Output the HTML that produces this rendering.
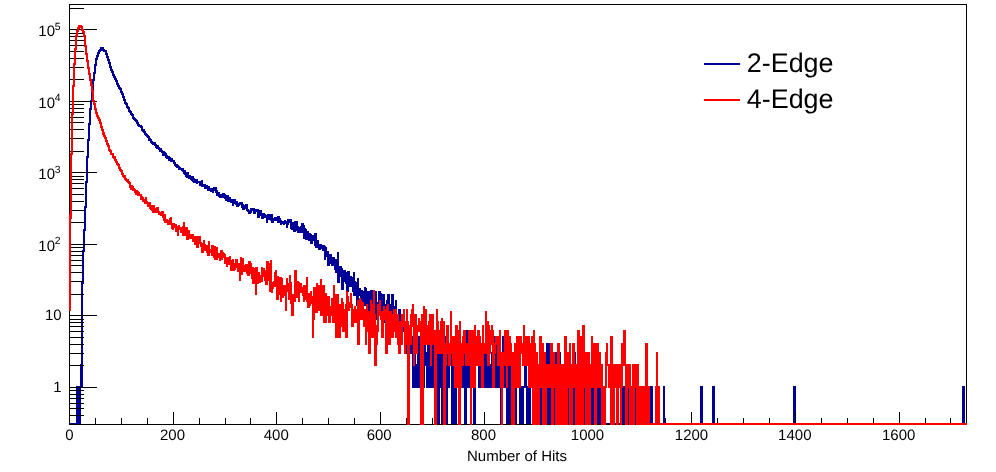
<!DOCTYPE html>
<html><head><meta charset="utf-8"><title>Number of Hits</title>
<style>html,body{margin:0;padding:0;background:#fff}body{width:996px;height:472px;overflow:hidden}svg{display:block;will-change:transform}text{font-family:"Liberation Sans",sans-serif;fill:#000;text-rendering:geometricPrecision}</style>
</head><body>
<svg width="996" height="472" viewBox="0 0 996 472">
<rect width="996" height="472" fill="#fff"/>
<path d="M69 423h7v2h-7zM76 386h4v39h-4zM80 364h1v61h-1zM81 282h1v106h-1zM82 250h1v138h-1zM83 229h1v55h-1zM84 206h1v46h-1zM85 181h1v50h-1zM86 156h1v52h-1zM87 139h1v44h-1zM88 123h1v35h-1zM89 108h1v33h-1zM90 100h1v25h-1zM91 90h1v20h-1zM92 79h1v23h-1zM93 72h1v20h-1zM94 64h1v17h-1zM95 58h1v16h-1zM96 55h1v11h-1zM97 52h1v8h-1zM98 50h1v7h-1zM99 49h1v5h-1zM100 47h1v5h-1zM101 47h2v4h-2zM103 47h1v5h-1zM104 49h1v3h-1zM105 50h1v5h-1zM106 50h1v8h-1zM107 53h1v8h-1zM108 56h1v8h-1zM109 59h1v9h-1zM110 62h1v9h-1zM111 66h1v7h-1zM112 69h1v7h-1zM113 71h1v7h-1zM114 74h1v6h-1zM115 76h1v6h-1zM116 78h1v7h-1zM117 80h1v7h-1zM118 83h1v6h-1zM119 85h1v5h-1zM120 87h1v6h-1zM121 88h1v7h-1zM122 91h1v7h-1zM123 93h1v8h-1zM124 96h1v8h-1zM125 99h1v6h-1zM126 102h1v6h-1zM127 103h1v6h-1zM128 106h1v6h-1zM129 107h1v6h-1zM130 110h1v5h-1zM131 111h1v5h-1zM132 113h1v6h-1zM133 114h1v6h-1zM134 117h1v4h-1zM135 118h1v4h-1zM136 119h1v5h-1zM137 120h1v6h-1zM138 122h1v5h-1zM139 124h1v3h-1zM140 125h1v3h-1zM141 125h1v6h-1zM142 126h1v6h-1zM143 129h1v4h-1zM144 129h1v6h-1zM145 131h1v5h-1zM146 133h1v4h-1zM147 134h1v4h-1zM148 135h1v6h-1zM149 136h1v5h-1zM150 138h1v5h-1zM151 139h1v5h-1zM152 141h1v4h-1zM153 142h1v3h-1zM154 142h1v4h-1zM155 142h1v6h-1zM156 144h1v5h-1zM157 145h1v4h-1zM158 145h1v5h-1zM159 147h1v5h-1zM160 148h1v4h-1zM161 148h1v5h-1zM162 150h1v6h-1zM163 151h2v5h-2zM165 152h1v6h-1zM166 153h1v6h-1zM167 155h1v4h-1zM168 156h2v5h-2zM170 157h1v5h-1zM171 158h2v4h-2zM173 160h1v4h-1zM174 160h1v6h-1zM175 162h1v5h-1zM176 164h2v4h-2zM178 165h1v5h-1zM179 166h1v4h-1zM180 167h1v3h-1zM181 168h1v3h-1zM182 168h1v4h-1zM183 168h1v6h-1zM184 170h1v5h-1zM185 170h1v7h-1zM186 172h2v6h-2zM188 172h1v7h-1zM189 175h1v4h-1zM190 175h1v5h-1zM191 176h1v5h-1zM192 176h1v6h-1zM193 176h1v7h-1zM194 178h1v5h-1zM195 179h1v4h-1zM196 179h2v5h-2zM198 181h1v2h-1zM199 181h2v5h-2zM201 180h2v7h-2zM203 184h1v3h-1zM204 184h2v5h-2zM206 185h1v4h-1zM207 185h1v6h-1zM208 186h2v5h-2zM210 188h2v4h-2zM212 188h1v5h-1zM213 187h1v6h-1zM214 187h1v4h-1zM215 187h1v6h-1zM216 187h1v9h-1zM217 190h1v6h-1zM218 192h1v5h-1zM219 192h1v6h-1zM220 194h2v4h-2zM222 193h2v5h-2zM224 193h1v6h-1zM225 194h1v7h-1zM226 195h1v6h-1zM227 195h2v7h-2zM229 197h1v5h-1zM230 197h1v6h-1zM231 199h1v4h-1zM232 199h2v7h-2zM234 199h1v5h-1zM235 199h1v6h-1zM236 201h2v6h-2zM238 203h1v4h-1zM239 202h1v4h-1zM240 202h1v3h-1zM241 202h1v6h-1zM242 202h1v8h-1zM243 204h1v6h-1zM244 205h1v5h-1zM245 204h1v5h-1zM246 204h1v7h-1zM247 204h1v8h-1zM248 209h1v5h-1zM249 210h1v4h-1zM250 208h1v6h-1zM251 208h1v5h-1zM252 208h1v3h-1zM253 208h2v6h-2zM255 209h1v5h-1zM256 209h1v3h-1zM257 209h2v9h-2zM259 210h1v8h-1zM260 210h1v6h-1zM261 210h1v9h-1zM262 213h2v6h-2zM264 213h1v5h-1zM265 214h1v4h-1zM266 215h1v8h-1zM267 214h1v9h-1zM268 214h2v6h-2zM270 214h1v7h-1zM271 214h2v9h-2zM273 218h1v5h-1zM274 217h3v4h-3zM277 216h3v7h-3zM280 218h1v7h-1zM281 220h1v5h-1zM282 221h1v3h-1zM283 221h1v4h-1zM284 220h1v5h-1zM285 220h1v4h-1zM286 221h1v7h-1zM287 219h1v9h-1zM288 219h1v6h-1zM289 219h1v4h-1zM290 219h1v10h-1zM291 219h1v11h-1zM292 222h1v8h-1zM293 222h1v10h-1zM294 221h2v11h-2zM296 221h1v10h-1zM297 221h1v12h-1zM298 226h1v7h-1zM299 227h1v6h-1zM300 226h1v7h-1zM301 223h2v10h-2zM303 223h1v16h-1zM304 225h1v14h-1zM305 228h1v12h-1zM306 229h1v11h-1zM307 231h1v9h-1zM308 231h1v10h-1zM309 233h1v8h-1zM310 233h1v11h-1zM311 234h1v10h-1zM312 235h1v9h-1zM313 235h1v6h-1zM314 233h1v13h-1zM315 233h2v15h-2zM317 240h1v8h-1zM318 240h1v10h-1zM319 244h2v6h-2zM321 244h1v5h-1zM322 245h2v6h-2zM324 245h1v15h-1zM325 246h1v14h-1zM326 247h1v10h-1zM327 251h2v15h-2zM329 254h1v12h-1zM330 254h1v10h-1zM331 254h1v12h-1zM332 257h2v9h-2zM334 257h1v13h-1zM335 259h2v14h-2zM337 252h2v31h-2zM339 266h1v17h-1zM340 266h1v11h-1zM341 266h1v24h-1zM342 268h1v22h-1zM343 270h1v20h-1zM344 270h1v12h-1zM345 270h1v14h-1zM346 272h1v20h-1zM347 271h2v21h-2zM349 271h1v16h-1zM350 276h2v11h-2zM352 277h1v15h-1zM353 272h2v24h-2zM355 281h1v15h-1zM356 282h1v24h-1zM357 278h2v28h-2zM359 288h1v8h-1zM360 288h1v18h-1zM361 290h2v21h-2zM363 291h1v20h-1zM364 287h2v19h-2zM366 288h1v16h-1zM367 291h1v13h-1zM368 291h2v22h-2zM370 290h1v23h-1zM371 290h1v21h-1zM372 290h1v23h-1zM373 298h1v15h-1zM374 293h1v27h-1zM375 291h2v29h-2zM377 302h1v6h-1zM378 291h2v17h-2zM380 291h1v25h-1zM381 293h1v23h-1zM382 294h3v29h-3zM385 304h1v19h-1zM386 300h1v20h-1zM387 294h1v26h-1zM388 294h1v22h-1zM389 294h1v17h-1zM390 304h1v23h-1zM391 294h2v33h-2zM393 294h1v26h-1zM394 306h1v21h-1zM395 300h2v27h-2zM397 314h1v24h-1zM398 309h2v29h-2zM400 309h1v36h-1zM401 321h2v24h-2zM403 318h1v14h-1zM404 318h1v36h-1zM405 321h1v33h-1zM406 336h1v18h-1zM407 336h1v30h-1zM408 330h1v36h-1zM409 325h1v41h-1zM410 325h2v29h-2zM412 336h3v52h-3zM415 343h1v45h-1zM416 364h1v24h-1zM417 336h3v52h-3zM420 352h1v36h-1zM421 343h1v45h-1zM422 336h2v52h-2zM424 343h1v45h-1zM425 343h1v23h-1zM426 352h1v36h-1zM427 330h3v58h-3zM430 336h2v52h-2zM432 343h2v45h-2zM434 352h3v36h-3zM437 352h1v73h-1zM438 336h2v89h-2zM440 336h1v52h-1zM441 343h2v82h-2zM443 343h1v23h-1zM444 336h1v30h-1zM445 336h1v89h-1zM446 352h2v73h-2zM448 343h2v45h-2zM450 343h1v11h-1zM451 352h2v73h-2zM453 364h2v61h-2zM455 352h2v73h-2zM457 352h5v36h-5zM462 343h2v45h-2zM464 343h2v82h-2zM466 330h1v95h-1zM467 330h2v58h-2zM469 343h2v45h-2zM471 336h2v52h-2zM473 352h1v73h-1zM474 364h1v61h-1zM475 343h1v82h-1zM476 343h2v23h-2zM478 352h4v36h-4zM482 336h2v52h-2zM484 352h5v36h-5zM489 364h2v24h-2zM491 352h3v36h-3zM494 336h2v52h-2zM496 343h2v45h-2zM498 364h2v24h-2zM500 364h1v61h-1zM501 386h1v39h-1zM502 336h1v89h-1zM503 336h1v52h-1zM504 364h2v24h-2zM506 364h2v61h-2zM508 352h2v73h-2zM510 364h1v61h-1zM511 352h2v73h-2zM513 386h3v39h-3zM516 364h1v61h-1zM517 364h2v24h-2zM519 364h1v61h-1zM520 386h4v39h-4zM524 364h2v24h-2zM526 364h1v61h-1zM527 386h2v39h-2zM529 364h2v61h-2zM531 364h1v24h-1zM532 386h1v39h-1zM533 352h3v73h-3zM536 386h3v39h-3zM539 352h3v73h-3zM542 386h3v39h-3zM545 364h1v61h-1zM546 343h4v82h-4zM550 352h2v73h-2zM552 386h2v39h-2zM554 352h4v73h-4zM558 343h1v82h-1zM559 343h1v45h-1zM560 352h1v36h-1zM561 386h2v39h-2zM563 364h3v61h-3zM566 364h1v24h-1zM567 386h1v2h-1zM568 386h2v39h-2zM570 364h3v61h-3zM573 352h3v73h-3zM576 423h1v2h-1zM577 364h7v61h-7zM584 352h2v73h-2zM586 364h1v61h-1zM587 352h1v73h-1zM588 352h2v36h-2zM590 364h1v24h-1zM591 386h2v39h-2zM593 352h7v73h-7zM600 364h2v61h-2zM602 386h1v39h-1zM603 423h1v2h-1zM604 386h2v39h-2zM606 423h4v2h-4zM610 386h5v39h-5zM615 423h6v2h-6zM621 386h5v39h-5zM626 423h1v2h-1zM627 386h3v39h-3zM630 423h5v2h-5zM635 364h2v61h-2zM637 386h1v39h-1zM638 423h5v2h-5zM643 386h2v39h-2zM645 423h5v2h-5zM650 386h3v39h-3zM653 423h10v2h-10zM663 386h2v39h-2zM665 423h35v2h-35zM700 386h3v39h-3zM703 423h9v2h-9zM712 386h3v39h-3zM715 423h78v2h-78zM793 386h3v39h-3zM796 423h166v2h-166zM962 386h3v39h-3zM965 423h2v2h-2z" fill="#000099" shape-rendering="crispEdges"/>
<path d="M69 4h898v1h-898zM69 424h898v1h-898zM69 4h1v421h-1zM966 4h1v421h-1zM69 412h1v13h-1zM95 418h1v7h-1zM121 418h1v7h-1zM147 418h1v7h-1zM173 412h1v13h-1zM199 418h1v7h-1zM225 418h1v7h-1zM250 418h1v7h-1zM276 412h1v13h-1zM302 418h1v7h-1zM328 418h1v7h-1zM354 418h1v7h-1zM380 412h1v13h-1zM406 418h1v7h-1zM432 418h1v7h-1zM458 418h1v7h-1zM484 412h1v13h-1zM510 418h1v7h-1zM536 418h1v7h-1zM562 418h1v7h-1zM587 412h1v13h-1zM613 418h1v7h-1zM639 418h1v7h-1zM665 418h1v7h-1zM691 412h1v13h-1zM717 418h1v7h-1zM743 418h1v7h-1zM769 418h1v7h-1zM795 412h1v13h-1zM821 418h1v7h-1zM847 418h1v7h-1zM873 418h1v7h-1zM899 412h1v13h-1zM925 418h1v7h-1zM950 418h1v7h-1zM69 415h15v1h-15zM69 408h15v1h-15zM69 403h15v1h-15zM69 398h15v1h-15zM69 394h15v1h-15zM69 390h15v1h-15zM69 387h28v1h-28zM69 365h15v1h-15zM69 353h15v1h-15zM69 344h15v1h-15zM69 337h15v1h-15zM69 331h15v1h-15zM69 326h15v1h-15zM69 322h15v1h-15zM69 319h15v1h-15zM69 315h28v1h-28zM69 294h15v1h-15zM69 281h15v1h-15zM69 272h15v1h-15zM69 265h15v1h-15zM69 260h15v1h-15zM69 255h15v1h-15zM69 251h15v1h-15zM69 247h15v1h-15zM69 244h28v1h-28zM69 222h15v1h-15zM69 210h15v1h-15zM69 201h15v1h-15zM69 194h15v1h-15zM69 188h15v1h-15zM69 183h15v1h-15zM69 179h15v1h-15zM69 176h15v1h-15zM69 172h28v1h-28zM69 151h15v1h-15zM69 138h15v1h-15zM69 129h15v1h-15zM69 122h15v1h-15zM69 117h15v1h-15zM69 112h15v1h-15zM69 108h15v1h-15zM69 104h15v1h-15zM69 101h28v1h-28zM69 79h15v1h-15zM69 67h15v1h-15zM69 58h15v1h-15zM69 51h15v1h-15zM69 45h15v1h-15zM69 40h15v1h-15zM69 36h15v1h-15zM69 33h15v1h-15zM69 29h28v1h-28zM69 8h15v1h-15z" fill="#000" shape-rendering="crispEdges"/>
<path d="M69 214h1v97h-1zM70 153h1v158h-1zM71 113h1v106h-1zM72 85h1v70h-1zM73 63h1v52h-1zM74 48h1v39h-1zM75 35h1v30h-1zM76 30h1v20h-1zM77 27h1v10h-1zM78 25h1v7h-1zM79 25h1v4h-1zM80 25h1v3h-1zM81 25h1v6h-1zM82 26h1v7h-1zM83 29h1v8h-1zM84 31h1v16h-1zM85 35h1v20h-1zM86 45h1v17h-1zM87 53h1v16h-1zM88 60h1v15h-1zM89 67h1v14h-1zM90 73h1v13h-1zM91 79h1v13h-1zM92 84h1v18h-1zM93 90h1v15h-1zM94 100h1v10h-1zM95 103h1v11h-1zM96 108h1v9h-1zM97 112h1v7h-1zM98 115h1v6h-1zM99 117h1v7h-1zM100 119h1v9h-1zM101 122h1v9h-1zM102 126h1v9h-1zM103 129h1v8h-1zM104 132h1v7h-1zM105 135h1v7h-1zM106 137h1v8h-1zM107 140h1v7h-1zM108 143h1v8h-1zM109 145h1v7h-1zM110 149h1v6h-1zM111 150h1v5h-1zM112 153h1v5h-1zM113 153h1v6h-1zM114 156h1v5h-1zM115 156h1v7h-1zM116 159h1v6h-1zM117 161h1v5h-1zM118 163h1v6h-1zM119 164h1v7h-1zM120 167h1v5h-1zM121 169h1v6h-1zM122 170h1v7h-1zM123 173h1v5h-1zM124 175h1v5h-1zM125 175h1v6h-1zM126 178h1v4h-1zM127 179h1v4h-1zM128 179h1v5h-1zM129 181h1v7h-1zM130 182h1v8h-1zM131 185h1v5h-1zM132 185h1v6h-1zM133 186h1v5h-1zM134 188h1v5h-1zM135 189h1v6h-1zM136 190h1v5h-1zM137 190h1v6h-1zM138 191h1v5h-1zM139 192h1v4h-1zM140 194h2v6h-2zM142 196h1v6h-1zM143 197h1v5h-1zM144 199h1v5h-1zM145 197h2v7h-2zM147 201h1v6h-1zM148 202h1v5h-1zM149 202h1v7h-1zM150 202h1v8h-1zM151 205h1v6h-1zM152 205h3v8h-3zM155 208h1v5h-1zM156 207h2v6h-2zM158 207h1v8h-1zM159 211h1v4h-1zM160 212h1v4h-1zM161 211h1v5h-1zM162 211h1v7h-1zM163 211h1v10h-1zM164 214h2v9h-2zM166 219h1v4h-1zM167 219h1v6h-1zM168 220h1v5h-1zM169 218h1v7h-1zM170 217h1v8h-1zM171 217h1v12h-1zM172 223h2v7h-2zM174 223h1v5h-1zM175 224h2v8h-2zM177 226h1v10h-1zM178 225h1v11h-1zM179 225h1v5h-1zM180 227h2v6h-2zM182 226h1v10h-1zM183 222h2v14h-2zM185 227h1v9h-1zM186 227h2v13h-2zM188 230h1v10h-1zM189 230h1v9h-1zM190 234h2v5h-2zM192 234h2v8h-2zM194 236h2v9h-2zM196 236h3v12h-3zM199 236h1v8h-1zM200 236h1v11h-1zM201 242h1v11h-1zM202 243h1v10h-1zM203 240h1v13h-1zM204 240h1v11h-1zM205 244h1v7h-1zM206 245h1v8h-1zM207 245h1v11h-1zM208 241h2v15h-2zM210 249h1v4h-1zM211 245h2v11h-2zM213 245h1v13h-1zM214 246h2v14h-2zM216 247h2v13h-2zM218 253h1v5h-1zM219 253h1v8h-1zM220 250h1v11h-1zM221 250h2v10h-2zM223 252h1v6h-1zM224 253h1v11h-1zM225 254h1v10h-1zM226 257h2v10h-2zM228 257h1v8h-1zM229 256h1v9h-1zM230 256h1v15h-1zM231 260h1v11h-1zM232 259h2v12h-2zM234 263h1v8h-1zM235 259h1v11h-1zM236 259h1v9h-1zM237 259h1v13h-1zM238 263h1v9h-1zM239 263h1v18h-1zM240 257h1v24h-1zM241 257h1v18h-1zM242 258h1v17h-1zM243 258h1v14h-1zM244 265h1v7h-1zM245 264h1v8h-1zM246 264h1v10h-1zM247 264h1v12h-1zM248 261h2v15h-2zM250 261h1v13h-1zM251 263h1v16h-1zM252 267h2v17h-2zM254 268h1v16h-1zM255 267h2v28h-2zM257 267h1v17h-1zM258 272h1v12h-1zM259 272h1v11h-1zM260 275h1v8h-1zM261 267h2v15h-2zM263 268h1v9h-1zM264 268h1v13h-1zM265 270h1v15h-1zM266 261h2v24h-2zM268 261h1v20h-1zM269 263h1v29h-1zM270 260h1v32h-1zM271 260h1v33h-1zM272 282h1v11h-1zM273 281h1v8h-1zM274 272h1v15h-1zM275 270h1v17h-1zM276 270h1v30h-1zM277 276h2v24h-2zM279 277h1v18h-1zM280 277h2v25h-2zM282 278h1v20h-1zM283 285h1v13h-1zM284 285h1v11h-1zM285 285h1v26h-1zM286 278h1v33h-1zM287 278h1v14h-1zM288 283h1v17h-1zM289 275h1v25h-1zM290 275h1v29h-1zM291 282h1v34h-1zM292 294h2v22h-2zM294 270h2v32h-2zM296 270h1v28h-1zM297 281h1v17h-1zM298 281h1v21h-1zM299 282h1v20h-1zM300 283h2v10h-2zM302 287h1v9h-1zM303 285h2v17h-2zM305 285h1v15h-1zM306 277h1v25h-1zM307 277h1v31h-1zM308 293h2v15h-2zM310 291h1v15h-1zM311 291h1v13h-1zM312 296h1v42h-1zM313 287h1v51h-1zM314 287h1v33h-1zM315 287h1v26h-1zM316 283h2v30h-2zM318 285h2v26h-2zM320 279h2v37h-2zM322 285h1v31h-1zM323 285h2v38h-2zM325 293h2v30h-2zM327 296h1v20h-1zM328 296h2v27h-2zM330 306h1v17h-1zM331 298h1v18h-1zM332 298h1v25h-1zM333 285h2v38h-2zM335 294h4v44h-4zM339 304h2v34h-2zM341 298h1v29h-1zM342 298h1v34h-1zM343 302h1v30h-1zM344 309h1v23h-1zM345 304h1v34h-1zM346 291h2v47h-2zM348 296h1v15h-1zM349 302h1v9h-1zM350 293h1v15h-1zM351 293h1v34h-1zM352 304h1v23h-1zM353 309h1v18h-1zM354 306h2v17h-2zM356 309h1v14h-1zM357 300h2v45h-2zM359 298h1v47h-1zM360 298h1v22h-1zM361 300h1v20h-1zM362 302h1v18h-1zM363 302h1v25h-1zM364 309h1v18h-1zM365 309h1v36h-1zM366 304h1v41h-1zM367 304h1v28h-1zM368 311h2v43h-2zM370 300h1v54h-1zM371 300h1v38h-1zM372 304h1v34h-1zM373 290h1v48h-1zM374 290h1v76h-1zM375 314h1v52h-1zM376 325h1v41h-1zM377 304h1v41h-1zM378 304h1v28h-1zM379 300h1v16h-1zM380 300h1v20h-1zM381 311h2v27h-2zM383 306h1v32h-1zM384 306h1v14h-1zM385 309h1v45h-1zM386 306h1v48h-1zM387 304h1v50h-1zM388 304h1v41h-1zM389 311h2v34h-2zM391 311h1v27h-1zM392 314h1v24h-1zM393 309h1v29h-1zM394 309h1v23h-1zM395 309h2v29h-2zM397 314h1v31h-1zM398 314h1v40h-1zM399 321h2v33h-2zM401 314h2v31h-2zM403 309h1v18h-1zM404 309h1v45h-1zM405 321h1v33h-1zM406 309h1v36h-1zM407 309h1v116h-1zM408 321h1v104h-1zM409 325h1v100h-1zM410 314h1v31h-1zM411 309h1v36h-1zM412 304h1v23h-1zM413 304h1v62h-1zM414 314h1v52h-1zM415 314h2v40h-2zM417 325h1v29h-1zM418 318h2v14h-2zM420 321h1v104h-1zM421 314h2v111h-2zM423 306h1v119h-1zM424 306h1v39h-1zM425 309h2v36h-2zM427 325h1v20h-1zM428 321h1v24h-1zM429 314h1v31h-1zM430 314h2v52h-2zM432 314h2v31h-2zM434 330h2v95h-2zM436 309h1v116h-1zM437 309h1v45h-1zM438 321h1v33h-1zM439 330h1v24h-1zM440 321h1v33h-1zM441 318h2v36h-2zM443 321h2v104h-2zM445 343h1v82h-1zM446 325h1v41h-1zM447 325h1v29h-1zM448 325h1v41h-1zM449 343h1v23h-1zM450 311h1v55h-1zM451 311h1v43h-1zM452 336h2v30h-2zM454 336h1v52h-1zM455 325h3v63h-3zM458 330h1v95h-1zM459 321h2v104h-2zM461 343h1v45h-1zM462 336h1v30h-1zM463 330h1v36h-1zM464 330h1v24h-1zM465 330h1v36h-1zM466 343h2v23h-2zM468 330h2v36h-2zM470 330h2v95h-2zM472 330h2v58h-2zM474 325h2v63h-2zM476 336h1v30h-1zM477 330h3v36h-3zM480 336h1v30h-1zM481 343h1v45h-1zM482 325h2v63h-2zM484 343h1v11h-1zM485 311h2v43h-2zM487 321h2v45h-2zM489 325h1v41h-1zM490 330h1v24h-1zM491 325h1v20h-1zM492 325h1v63h-1zM493 330h1v58h-1zM494 343h1v45h-1zM495 336h1v18h-1zM496 336h1v9h-1zM497 336h2v30h-2zM499 330h1v36h-1zM500 330h1v58h-1zM501 352h2v73h-2zM503 352h1v36h-1zM504 330h2v36h-2zM506 330h2v58h-2zM508 330h1v36h-1zM509 336h2v30h-2zM511 343h1v82h-1zM512 352h2v73h-2zM514 343h1v82h-1zM515 343h1v45h-1zM516 336h5v52h-5zM521 336h1v18h-1zM522 343h1v23h-1zM523 325h2v41h-2zM525 336h3v30h-3zM528 336h2v52h-2zM530 343h1v45h-1zM531 336h1v52h-1zM532 336h1v89h-1zM533 330h2v95h-2zM535 343h1v82h-1zM536 352h2v73h-2zM538 364h1v61h-1zM539 336h1v89h-1zM540 336h2v52h-2zM542 343h2v82h-2zM544 352h2v73h-2zM546 364h1v61h-1zM547 364h3v24h-3zM550 343h1v45h-1zM551 343h2v82h-2zM553 352h1v73h-1zM554 352h1v36h-1zM555 364h2v61h-2zM557 343h3v82h-3zM560 364h4v61h-4zM564 336h3v89h-3zM567 352h1v73h-1zM568 352h1v36h-1zM569 343h2v82h-2zM571 364h1v61h-1zM572 343h1v82h-1zM573 343h2v45h-2zM575 364h2v61h-2zM577 330h3v95h-3zM580 336h2v89h-2zM582 325h2v100h-2zM584 325h1v63h-1zM585 352h5v73h-5zM590 364h1v61h-1zM591 336h2v52h-2zM593 343h1v45h-1zM594 343h3v82h-3zM597 343h2v45h-2zM599 352h2v36h-2zM601 364h2v61h-2zM603 386h2v39h-2zM605 352h1v73h-1zM606 343h1v45h-1zM607 343h1v23h-1zM608 364h2v24h-2zM610 336h3v89h-3zM613 364h2v61h-2zM615 364h1v24h-1zM616 364h3v61h-3zM619 364h1v24h-1zM620 364h1v61h-1zM621 343h1v82h-1zM622 343h1v45h-1zM623 330h2v36h-2zM625 330h1v95h-1zM626 364h2v61h-2zM628 364h1v24h-1zM629 364h2v61h-2zM631 386h1v39h-1zM632 364h3v61h-3zM635 364h1v24h-1zM636 364h3v61h-3zM639 386h6v39h-6zM645 343h3v82h-3zM648 386h2v39h-2zM650 423h5v2h-5zM655 386h1v39h-1zM656 352h2v73h-2zM658 386h2v39h-2zM660 423h307v2h-307z" fill="#ff0000" shape-rendering="crispEdges"/>
<path d="M704 63h36v2h-36z" fill="#000099" shape-rendering="crispEdges"/>
<path d="M704 99h36v2h-36z" fill="#ff0000" shape-rendering="crispEdges"/>
<text x="69.3" y="439.8" text-anchor="middle" font-size="15">0</text>
<text x="172.5" y="439.8" text-anchor="middle" font-size="15">200</text>
<text x="276.3" y="439.8" text-anchor="middle" font-size="15">400</text>
<text x="379.2" y="439.8" text-anchor="middle" font-size="15">600</text>
<text x="483.5" y="439.8" text-anchor="middle" font-size="15">800</text>
<text x="587.5" y="439.8" text-anchor="middle" font-size="15">1000</text>
<text x="691.5" y="439.8" text-anchor="middle" font-size="15">1200</text>
<text x="794.8" y="439.8" text-anchor="middle" font-size="15">1400</text>
<text x="898.7" y="439.8" text-anchor="middle" font-size="15">1600</text>
<text x="517" y="461" text-anchor="middle" font-size="15">Number of Hits</text>
<text x="61.5" y="392.1" text-anchor="end" font-size="15">1</text>
<text x="61.6" y="320.4" text-anchor="end" font-size="15">10</text>
<text x="55" y="250.7" text-anchor="end" font-size="15">10</text>
<text x="54.7" y="244.2" font-size="10.4">2</text>
<text x="55" y="179.2" text-anchor="end" font-size="15">10</text>
<text x="54.7" y="172.7" font-size="10.4">3</text>
<text x="55" y="107.7" text-anchor="end" font-size="15">10</text>
<text x="54.7" y="101.2" font-size="10.4">4</text>
<text x="55" y="36.2" text-anchor="end" font-size="15">10</text>
<text x="54.7" y="29.7" font-size="10.4">5</text>
<text x="746.8" y="72" font-size="26.9">2-Edge</text>
<text x="746.8" y="108" font-size="26.9">4-Edge</text>
</svg>
</body></html>
